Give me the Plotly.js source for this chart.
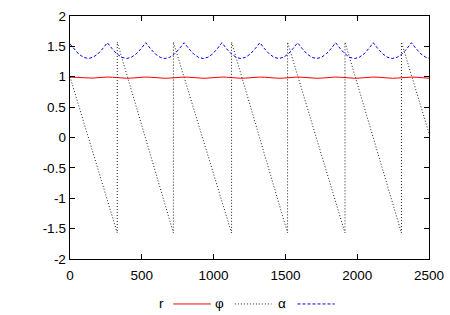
<!DOCTYPE html>
<html>
<head>
<meta charset="utf-8">
<script src="https://cdn.plot.ly/plotly-3.0.1.min.js"></script>
<style>html,body{margin:0;padding:0;background:#fff;}#chart{width:450px;height:315px;}</style>
</head>
<body>
<div id="chart"></div>
<script>
// shared sample positions for r and alpha
var t = [0,27,60,94,127,160,194,227,260,294,327,361,394,427,461,494,528,561,594,628,661,694,728,761,795,828,861,894,927,960,993,1025,1058,1091,1124,1157,1190,1223,1256,1289,1322,1355,1388,1421,1454,1487,1520,1552,1585,1618,1651,1685,1718,1751,1784,1817,1850,1883,1916,1948,1981,2014,2047,2079,2112,2145,2179,2212,2245,2278,2312,2345,2378,2411,2444,2478,2500];
var alpha = [1.54,1.46,1.375,1.32,1.30,1.32,1.375,1.46,1.56,1.46,1.375,1.32,1.30,1.32,1.375,1.46,1.56,1.46,1.375,1.32,1.30,1.32,1.375,1.46,1.56,1.46,1.375,1.32,1.30,1.32,1.375,1.46,1.56,1.46,1.375,1.32,1.30,1.32,1.375,1.46,1.56,1.46,1.375,1.32,1.30,1.32,1.375,1.46,1.56,1.46,1.375,1.32,1.30,1.32,1.375,1.46,1.56,1.46,1.375,1.32,1.30,1.32,1.375,1.46,1.56,1.46,1.375,1.32,1.30,1.32,1.375,1.46,1.56,1.46,1.375,1.32,1.305];
var r = [0.994,0.992,0.985,0.978,0.975,0.978,0.985,0.992,0.995,0.992,0.985,0.978,0.975,0.978,0.985,0.992,0.995,0.992,0.985,0.978,0.975,0.978,0.985,0.992,0.995,0.992,0.985,0.978,0.975,0.978,0.985,0.992,0.995,0.992,0.985,0.978,0.975,0.978,0.985,0.992,0.995,0.992,0.985,0.978,0.975,0.978,0.985,0.992,0.995,0.992,0.985,0.978,0.975,0.978,0.985,0.992,0.995,0.992,0.985,0.978,0.975,0.978,0.985,0.992,0.995,0.992,0.985,0.978,0.975,0.978,0.985,0.992,0.995,0.992,0.985,0.978,0.976];
// phi sawtooth
var phiX = [0,329,329,720,720,1125,1125,1515,1515,1915,1915,2308,2308,2500];
var phiY = [1.0,-1.57,1.57,-1.57,1.57,-1.57,1.57,-1.57,1.57,-1.57,1.57,-1.57,1.57,0.07];
var names = ['r','\u03c6','\u03b1'];
var xTicks = [0,500,1000,1500,2000,2500];
var yTicks = [-2,-1.5,-1,-0.5,0,0.5,1,1.5,2];

var font = {family:'Liberation Sans, Arial, sans-serif', size:13.5, color:'#000'};
var traces = [
  {x:t, y:r, mode:'lines', name:names[0], line:{color:'#ff0000', width:1}, showlegend:false},
  {x:phiX, y:phiY, mode:'lines', name:names[1], line:{color:'#222', width:1, dash:'1px,2px'}, showlegend:false},
  {x:t, y:alpha, mode:'lines', name:names[2], line:{color:'#0000ff', width:1, dash:'3px,2px'}, showlegend:false}
];
var axisCommon = {showgrid:false, zeroline:false, showline:true, linecolor:'#000', linewidth:1.4, mirror:'ticks', ticks:'inside', ticklen:5, tickcolor:'#000', tickwidth:1, tickfont:font};
var layout = {
  width:450, height:315,
  margin:{l:70, r:20.7, t:16, b:56},
  paper_bgcolor:'#fff', plot_bgcolor:'#fff',
  font:font,
  xaxis:Object.assign({range:[0,2500], tickvals:xTicks, ticktext:xTicks.map(String), ticklabelstandoff:3}, axisCommon),
  yaxis:Object.assign({range:[-2,2], tickvals:yTicks, ticktext:yTicks.map(String)}, axisCommon),
  annotations:[
    {xref:'paper', yref:'paper', x:0.267, y:-0.185, text:names[0], showarrow:false, xanchor:'right', yanchor:'middle', font:font},
    {xref:'paper', yref:'paper', x:0.4342, y:-0.185, text:names[1], showarrow:false, xanchor:'right', yanchor:'middle', font:font},
    {xref:'paper', yref:'paper', x:0.6067, y:-0.185, text:names[2], showarrow:false, xanchor:'right', yanchor:'middle', font:font}
  ],
  shapes:[
    {type:'line', xref:'paper', yref:'paper', x0:0.2875, x1:0.3924, y0:-0.185, y1:-0.185, line:{color:'#ff0000', width:1}},
    {type:'line', xref:'paper', yref:'paper', x0:0.4592, x1:0.5613, y0:-0.185, y1:-0.185, line:{color:'#222', width:1, dash:'1px,2px'}},
    {type:'line', xref:'paper', yref:'paper', x0:0.6337, x1:0.7375, y0:-0.185, y1:-0.185, line:{color:'#0000ff', width:1, dash:'3px,2px'}}
  ]
};
Plotly.newPlot('chart', traces, layout, {displayModeBar:false, staticPlot:true});
</script>
</body>
</html>
